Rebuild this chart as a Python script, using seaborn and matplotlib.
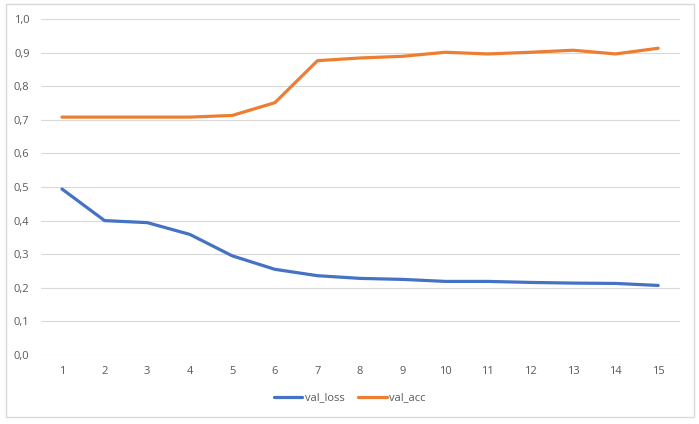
import matplotlib
matplotlib.use("Agg")
import matplotlib.pyplot as plt
from matplotlib.patches import Rectangle
from matplotlib.ticker import FuncFormatter, MultipleLocator
import pandas as pd
import seaborn as sns

epochs = list(range(1, 16))
val_loss = [0.494, 0.400, 0.394, 0.359, 0.295, 0.255, 0.236, 0.228, 0.225,
            0.219, 0.219, 0.216, 0.214, 0.213, 0.207]
val_acc = [0.708, 0.708, 0.708, 0.708, 0.713, 0.751, 0.876, 0.884, 0.889,
           0.901, 0.896, 0.901, 0.907, 0.896, 0.913]
series_names = ["val_loss", "val_acc"]
colors = ["#4472C4", "#ED7D31"]

df = pd.DataFrame({"epoch": epochs * 2,
                   "value": val_loss + val_acc,
                   "series": [series_names[0]] * 15 + [series_names[1]] * 15})

sns.set_style("white")
plt.rcParams["font.family"] = ["Open Sans", "DejaVu Sans"]

W, H = 699, 424
fig = plt.figure(figsize=(W / 100, H / 100), dpi=100)
ax = fig.add_axes([40.7 / W, 1 - 355 / H, (679.5 - 40.7) / W, (355 - 19) / H])

sns.lineplot(data=df, x="epoch", y="value", hue="series", palette=colors,
             linewidth=2.3, ax=ax, legend=False)

ax.set_xlim(0.5, 15.5)
ax.set_ylim(0, 1.0)
ax.yaxis.set_major_locator(MultipleLocator(0.1))
ax.yaxis.set_major_formatter(FuncFormatter(lambda v, p: f"{v:.1f}".replace(".", ",")))
ax.set_xticks(epochs)
ax.grid(axis="y", color="#D9D9D9", linewidth=0.8)
ax.set_axisbelow(True)
for s in ax.spines.values():
    s.set_visible(False)
ax.tick_params(axis="both", length=0, labelsize=8, colors="#595959")
ax.tick_params(axis="y", pad=8)
ax.tick_params(axis="x", pad=8)
ax.set_xlabel("")
ax.set_ylabel("")

handles = [plt.Line2D([], [], color=c, linewidth=2.3) for c in colors]
leg = fig.legend(handles, series_names, loc="center", bbox_to_anchor=(0.5, 1 - 398 / H),
                 ncol=2, frameon=False, fontsize=8, handlelength=2.6,
                 handletextpad=0.2, columnspacing=1.2)
for t in leg.get_texts():
    t.set_color("#595959")

fig.patches.append(Rectangle((6 / W, 1 - 417 / H), (694 - 6) / W, (417 - 4) / H,
                             transform=fig.transFigure, fill=False,
                             edgecolor="#D9D9D9", linewidth=1))

fig.savefig("out.png", dpi=100)
